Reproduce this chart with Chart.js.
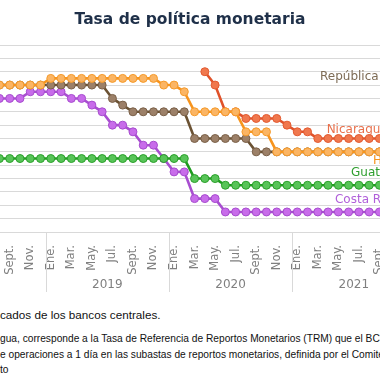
<!DOCTYPE html>
<html><head><meta charset="utf-8">
<script src="https://cdn.jsdelivr.net/npm/chart.js@4"></script>
<style>
html,body{margin:0;padding:0;background:#fff;width:380px;height:380px;overflow:hidden;}
#wrap{position:absolute;left:0;top:0;width:380px;height:300px;}
.note{position:absolute;left:0;font-family:"Liberation Sans",Arial,sans-serif;color:#111;white-space:nowrap;}
</style></head><body>
<div id="wrap"><canvas id="c" width="380" height="300"></canvas></div>
<div class="note" style="top:309px;font-size:11.7px;line-height:12px;">cados de los bancos centrales.</div>
<div class="note" style="top:331px;font-size:10.2px;line-height:15.5px;">gua, corresponde a la Tasa de Referencia de Reportos Monetarios (TRM) que el BCN<br>e operaciones a 1 día en las subastas de reportos monetarios, definida por el Comité<br>to</div>
<script>
// Months from Aug 2018 to Sep 2021
const months = ["Ago.","Sept.","Oct.","Nov.","Dic.",
  "Ene.","Feb.","Mar.","Abr.","May.","Jun.","Jul.","Ago.","Sept.","Oct.","Nov.","Dic.",
  "Ene.","Feb.","Mar.","Abr.","May.","Jun.","Jul.","Ago.","Sept.","Oct.","Nov.","Dic.",
  "Ene.","Feb.","Mar.","Abr.","May.","Jun.","Jul.","Ago.","Sept."];
const years = ["2019","2020","2021"];

const honduras = [5.5,5.5,5.5,5.5,5.5,
  5.75,5.75,5.75,5.75,5.75,5.75,5.75,5.75,5.75,5.75,5.75,5.5,
  5.5,5.25,4.5,4.5,4.5,4.5,4.5,3.75,3.75,3.75,3.0,3.0,
  3.0,3.0,3.0,3.0,3.0,3.0,3.0,3.0,3.0];
const guatemala = [2.75,2.75,2.75,2.75,2.75,
  2.75,2.75,2.75,2.75,2.75,2.75,2.75,2.75,2.75,2.75,2.75,2.75,
  2.75,2.75,2.0,2.0,2.0,1.75,1.75,1.75,1.75,1.75,1.75,1.75,
  1.75,1.75,1.75,1.75,1.75,1.75,1.75,1.75,1.75];
const nicaragua = [null,null,null,null,null,
  null,null,null,null,null,null,null,null,null,null,null,null,
  null,null,null,6.0,5.5,4.5,4.5,4.25,4.25,4.25,4.25,4.0,
  3.75,3.75,3.5,3.5,3.5,3.5,3.5,3.5,3.5];
const repDominicana = [5.5,5.5,5.5,5.5,5.5,
  5.5,5.5,5.5,5.5,5.5,5.5,5.0,4.75,4.5,4.5,4.5,4.5,
  4.5,4.5,3.5,3.5,3.5,3.5,3.5,3.5,3.0,3.0,3.0,3.0,
  3.0,3.0,3.0,3.0,3.0,3.0,3.0,3.0,3.0];
const costaRica = [5.0,5.0,5.0,5.25,5.25,
  5.25,5.25,5.0,5.0,4.75,4.5,4.0,4.0,3.75,3.25,3.25,2.75,
  2.25,2.25,1.25,1.25,1.25,0.75,0.75,0.75,0.75,0.75,0.75,0.75,
  0.75,0.75,0.75,0.75,0.75,0.75,0.75,0.75,0.75];

const seriesNames = ["Honduras","Guatemala","Nicaragua","República Dominicana","Costa Rica"];

const toPts = arr => arr.map((v,i)=>({x:i,y:v}));
function ds(label, data, line, fill, border){
  return {label, data:toPts(data), borderColor:line, backgroundColor:fill,
    pointBackgroundColor:fill, pointBorderColor:border, pointBorderWidth:1,
    pointRadius:4, borderWidth:2.6, tension:0, spanGaps:false};
}

const seriesLabels = {
  id:'seriesLabels',
  afterDatasetsDraw(chart, args, opts){
    const {ctx, scales:{x,y}} = chart;
    ctx.save();
    ctx.font = opts.font;
    ctx.textAlign='left'; ctx.textBaseline='middle';
    opts.items.forEach(it=>{
      ctx.fillStyle = it.color;
      ctx.fillText(it.text, x.getPixelForValue(it.x), y.getPixelForValue(it.y));
    });
    ctx.restore();
  }
};
const yearAxis = {
  id:'yearAxis',
  afterDraw(chart, args, opts){
    const {ctx, chartArea, scales:{x}} = chart;
    ctx.save();
    ctx.strokeStyle = opts.lineColor; ctx.lineWidth=1;
    ctx.fillStyle = opts.color; ctx.font = opts.font;
    ctx.textAlign='center'; ctx.textBaseline='middle';
    let yi = 0;
    months.forEach((m,i)=>{
      if(m==="Ene."){
        const px = Math.round(x.getPixelForValue(i-0.5))+0.5;
        ctx.beginPath(); ctx.moveTo(px, chartArea.bottom); ctx.lineTo(px, chartArea.bottom+opts.lineLen); ctx.stroke();
        if(yi<years.length){
          ctx.fillText(years[yi], x.getPixelForValue(i+5.5), chartArea.bottom+opts.textOffset);
        }
        yi++;
      }
    });
    ctx.restore();
  }
};

new Chart(document.getElementById('c'), {
  type:'line',
  data:{datasets:[
    ds(seriesNames[0], honduras, '#F7941D', '#FBB564', '#F59A2A'),
    ds(seriesNames[1], guatemala, '#1E9B1E', '#58C458', '#2AA02A'),
    ds(seriesNames[2], nicaragua, '#E0522A', '#F0784E', '#E35A30'),
    ds(seriesNames[3], repDominicana, '#6B5233', '#9C8068', '#7A6048'),
    ds(seriesNames[4], costaRica, '#A84ED0', '#C86CEA', '#A64CCE')
  ]},
  options:{
    responsive:false, animation:false,
    layout:{padding:0, autoPadding:false},
    plugins:{
      legend:{display:false}, tooltip:{enabled:false},
      title:{display:true, text:'Tasa de política monetaria', color:'#1F3049',
        font:{family:'DejaVu Sans', size:15.5, weight:'bold'}, padding:{top:10.3,bottom:16.1}},
      seriesLabels:{font:'12px "DejaVu Sans"', items:[
        {text:'República Dominicana', color:'#7D6B55', x:31.21, y:5.8},
        {text:'Nicaragua', color:'#E8704C', x:31.86, y:3.81},
        {text:'Honduras', color:'#F7941D', x:36.37, y:2.67},
        {text:'Guatemala', color:'#2E9E2E', x:34.23, y:2.2},
        {text:'Costa Rica', color:'#B05FD9', x:32.67, y:1.19}
      ]},
      yearAxis:{lineColor:'#D9D9D9', color:'#808080', font:'12px "DejaVu Sans"', lineLen:60, textOffset:53}
    },
    scales:{
      x:{type:'linear', min:0.054, max:37.055,
        grid:{display:false}, border:{display:false},
        afterBuildTicks:s=>{ const t=[]; for(let i=1;i<months.length;i+=2) t.push({value:i}); s.ticks=t; },
        afterFit:s=>{ s.height = 68; s.paddingLeft = 0; s.paddingRight = 0; },
        ticks:{autoSkip:false, minRotation:90, maxRotation:90, padding:5, color:'#808080',
          font:{family:'DejaVu Sans', size:11.5}, callback:v=>months[v]}
      },
      y:{min:0, max:7, ticks:{display:false, stepSize:0.5},
        grid:{color:'#D9D9D9', drawTicks:false}, border:{display:false},
        afterFit:s=>{ s.width = 0; s.paddingTop = 0; s.paddingBottom = 0; }}
    }
  },
  plugins:[seriesLabels, yearAxis]
});
</script>
</body></html>
